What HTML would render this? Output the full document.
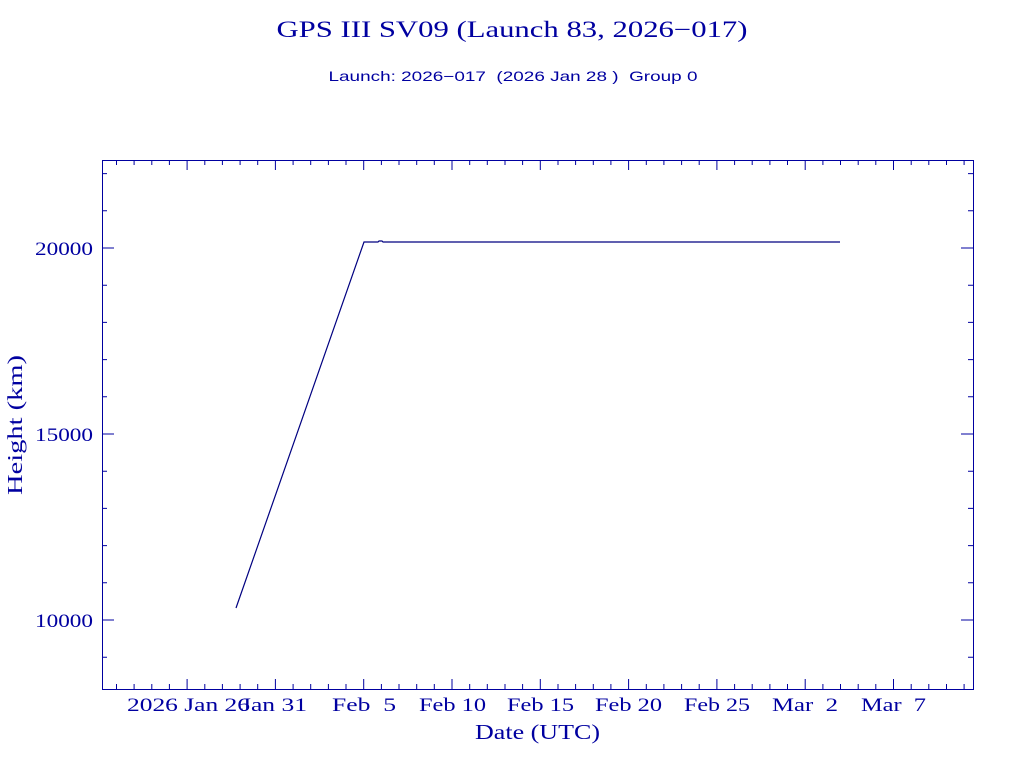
<!DOCTYPE html>
<html><head><meta charset="utf-8"><style>html,body{margin:0;padding:0;background:#fff}svg{display:block}text{white-space:pre}</style></head>
<body>
<svg id="s" width="1024" height="768" xmlns="http://www.w3.org/2000/svg" font-family="Liberation Serif, serif" fill="#0000a0" xml:space="preserve">
<text x="512" y="37" font-size="23" text-anchor="middle" textLength="471" lengthAdjust="spacingAndGlyphs">GPS III SV09 (Launch 83, 2026−017)</text>
<text x="513" y="81" font-size="14" font-family="Liberation Sans, sans-serif" text-anchor="middle" textLength="369" lengthAdjust="spacingAndGlyphs">Launch: 2026−017  (2026 Jan 28 )  Group 0</text>
<rect x="102.5" y="160.5" width="871" height="529" fill="none" stroke="#0000a0" stroke-width="1"/>
<g id="ticks" stroke="#0000a0" stroke-width="1"></g>
<polyline points="236,608 364,242 378,242 379,241 382,241 383,242 840,242" fill="none" stroke="#000080" stroke-width="1.2"/>
<g font-size="19" lengthAdjust="spacingAndGlyphs">
<text x="127" y="711" textLength="123" lengthAdjust="spacingAndGlyphs">2026 Jan 26</text>
<text x="241" y="711" textLength="66" lengthAdjust="spacingAndGlyphs">Jan 31</text>
<text x="332" y="711" textLength="64" lengthAdjust="spacingAndGlyphs">Feb  5</text>
<text x="419" y="711" textLength="67" lengthAdjust="spacingAndGlyphs">Feb 10</text>
<text x="507" y="711" textLength="67" lengthAdjust="spacingAndGlyphs">Feb 15</text>
<text x="595" y="711" textLength="67" lengthAdjust="spacingAndGlyphs">Feb 20</text>
<text x="684" y="711" textLength="66" lengthAdjust="spacingAndGlyphs">Feb 25</text>
<text x="772" y="711" textLength="66" lengthAdjust="spacingAndGlyphs">Mar  2</text>
<text x="861" y="711" textLength="65" lengthAdjust="spacingAndGlyphs">Mar  7</text>
</g>
<g font-size="19">
<text x="35" y="255" textLength="58" lengthAdjust="spacingAndGlyphs">20000</text>
<text x="35" y="441" textLength="58" lengthAdjust="spacingAndGlyphs">15000</text>
<text x="35" y="627" textLength="58" lengthAdjust="spacingAndGlyphs">10000</text>
</g>
<text x="475" y="739" font-size="21" textLength="125" lengthAdjust="spacingAndGlyphs">Date (UTC)</text>
<text transform="translate(22,495) rotate(-90)" font-size="21" textLength="140" lengthAdjust="spacingAndGlyphs">Height (km)</text>
</svg>
<script>
var g=document.getElementById('ticks'),d='';
for(var i=-4;i<=44;i++){var x=(187.1+17.66*i).toFixed(1);var L=(i%5==0)?10:5;
d+='M'+x+' 689V'+(689-L)+'M'+x+' 160V'+(160+L);}
for(var v=9000;v<=22000;v+=1000){var y=(248+(20000-v)/1000*37.2).toFixed(1);var L=(v%5000==0)?12:5;
d+='M102 '+y+'H'+(102+L)+'M973 '+y+'H'+(973-L);}
var p=document.createElementNS('http://www.w3.org/2000/svg','path');p.setAttribute('d',d);p.setAttribute('fill','none');g.appendChild(p);
</script>
</body></html>
